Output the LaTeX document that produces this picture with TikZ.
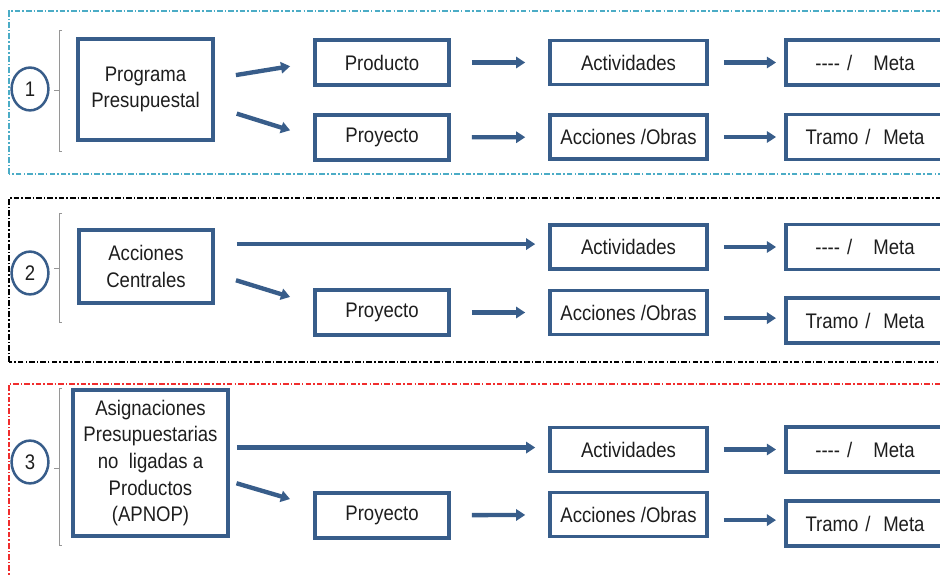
\documentclass[tikz,border=0pt]{standalone}
\usepackage{fontspec}
\setmainfont[FakeStretch=0.88]{Liberation Sans}
\usepackage{tikz}
\usetikzlibrary{arrows.meta,shapes,positioning,calc}
\usepackage{xcolor}
\definecolor{pbazul}{RGB}{56,93,138}
\definecolor{pbcian}{RGB}{75,172,198}
\definecolor{pbrojo}{RGB}{240,45,45}
\definecolor{pbgris}{RGB}{150,150,150}
\definecolor{pbtexto}{RGB}{30,30,30}
\tikzstyle{caja} = [rectangle, draw=pbazul, line width=2.8pt, fill=white, inner sep=0pt, align=center, text=pbtexto, font=\fontsize{15}{19}\selectfont]
\tikzstyle{chica} = [caja, minimum width=3.35cm, minimum height=1.125cm]
\tikzstyle{media} = [caja, minimum width=3.925cm, minimum height=1.1cm]
\tikzstyle{cajameta} = [caja, minimum width=3.95cm, minimum height=1.125cm]
\tikzstyle{numero} = [ellipse, draw=pbazul, line width=1.8pt, minimum width=0.92cm, minimum height=1.07cm, inner sep=0pt, text=pbtexto, font=\fontsize{15}{16}\selectfont]
\tikzstyle{flecha} = [line width=3.1pt, draw=pbazul, -{Triangle[length=6.5pt,width=8pt]}]
\tikzstyle{marco} = [line width=0.8pt, dash pattern=on 4pt off 1.5pt on 1pt off 1.5pt]
\tikzstyle{llave} = [line width=0.7pt, draw=pbgris]

\begin{document}
\begin{tikzpicture}
    \useasboundingbox (0,0) rectangle (23.5,14.4);
    \clip (0,0) rectangle (23.5,14.4);

    % Marcos
    \draw[marco, draw=pbcian] (0.225,10.05) rectangle (24,14.125);
    \draw[marco, draw=black] (0.225,5.35) rectangle (24,9.45);
    \draw[marco, draw=pbrojo] (0.225,-1) rectangle (24,4.8);

    % Llaves
    \foreach \arriba/\abajo/\medio in {13.65/10.625/12.15, 9.075/6.35/7.7, 4.7/0.775/2.7}
        \draw[llave] (1.55,\arriba) -- (1.475,\arriba) -- (1.475,\abajo) -- (1.55,\abajo)
                     (1.475,\medio) -- (1.35,\medio);

    % Programa Presupuestal
    \node[numero] (n1) at (0.75,12.175) {1};
    \node[caja, minimum width=3.375cm, minimum height=2.525cm] (prog) at (3.6375,12.1625) {Programa\\Presupuestal};
    \node[chica] (prod) at (9.55,12.8375) {Producto};
    \node[chica] (proy1) at (9.55,10.9625) {Proyecto};
    \node[media] (act1) at (15.7125,12.8375) {Actividades};
    \node[media] (acc1) at (15.7125,10.975) {Acciones /Obras};
    \node[cajameta] (meta1) at (21.625,12.8375) {-{}-{}-{}-\hspace{5pt}/\hspace{15pt}Meta};
    \node[cajameta] (tramo1) at (21.625,10.975) {Tramo\hspace{5pt}/\hspace{9pt}Meta};

    \draw[flecha, shorten <=0.53cm, shorten >=0.58cm] (prog.9) -- (prod.west);
    \draw[flecha, shorten <=0.57cm, shorten >=0.6cm] (prog.-14) -- (proy1.west);
    \draw[flecha, shorten <=0.52cm, shorten >=0.57cm] (prod) -- (act1);
    \draw[flecha, shorten <=0.37cm, shorten >=0.2cm] (act1) -- (meta1);
    \draw[flecha, shorten <=0.52cm, shorten >=0.57cm] (proy1) -- (acc1);
    \draw[flecha, shorten <=0.37cm, shorten >=0.2cm] (acc1) -- (tramo1);

    % Acciones Centrales
    \node[numero] (n2) at (0.75,7.575) {2};
    \node[caja, minimum width=3.35cm, minimum height=1.825cm] (cen) at (3.65,7.7375) {Acciones\\Centrales};
    \node[chica] (proy2) at (9.55,6.5875) {Proyecto};
    \node[media] (act2) at (15.7125,8.225) {Actividades};
    \node[media] (acc2) at (15.7125,6.5875) {Acciones /Obras};
    \node[cajameta] (meta2) at (21.625,8.225) {-{}-{}-{}-\hspace{5pt}/\hspace{15pt}Meta};
    \node[cajameta] (tramo2) at (21.625,6.3875) {Tramo\hspace{5pt}/\hspace{9pt}Meta};

    \draw[flecha, shorten <=0.55cm, shorten >=0.32cm] (cen.18) -- (cen.18 -| act2.west);
    \draw[flecha, shorten <=0.55cm, shorten >=0.6cm] (cen.-6) -- (proy2.173);
    \draw[flecha, shorten <=0.37cm, shorten >=0.2cm] (act2) -- (meta2);
    \draw[flecha, shorten <=0.52cm, shorten >=0.57cm] (proy2) -- (acc2);
    \draw[flecha, shorten <=0.37cm, shorten >=0.2cm] (acc2.-4) -- (acc2.-4 -| tramo2.west);

    % APNOP
    \node[numero] (n3) at (0.75,2.85) {3};
    \node[caja, minimum width=3.875cm, minimum height=3.65cm] (apn) at (3.7625,2.825) {Asignaciones\\Presupuestarias\\no\ \ ligadas a\\Productos\\(APNOP)};
    \node[chica] (proy3) at (9.55,1.5125) {Proyecto};
    \node[media] (act3) at (15.7125,3.1625) {Actividades};
    \node[media] (acc3) at (15.7125,1.5375) {Acciones /Obras};
    \node[cajameta] (meta3) at (21.625,3.1625) {-{}-{}-{}-\hspace{5pt}/\hspace{15pt}Meta};
    \node[cajameta] (tramo3) at (21.625,1.3125) {Tramo\hspace{5pt}/\hspace{9pt}Meta};

    \draw[flecha, shorten <=0.17cm, shorten >=0.32cm] (apn.11) -- (apn.11 -| act3.west);
    \draw[flecha, shorten <=0.17cm, shorten >=0.6cm] (apn.-13) -- (proy3.172);
    \draw[flecha, shorten <=0.37cm, shorten >=0.2cm] (act3) -- (meta3);
    \draw[flecha, shorten <=0.52cm, shorten >=0.57cm] (proy3) -- (acc3);
    \draw[flecha, shorten <=0.37cm, shorten >=0.2cm] (acc3.-4) -- (acc3.-4 -| tramo3.west);
\end{tikzpicture}
\end{document}
